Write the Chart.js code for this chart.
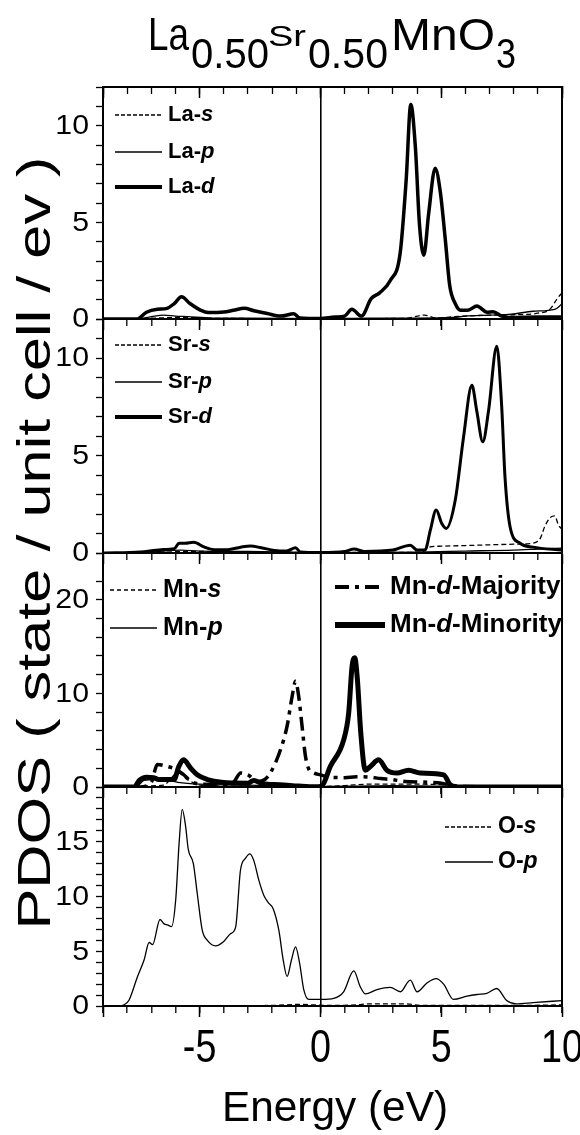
<!DOCTYPE html>
<html>
<head>
<meta charset="utf-8">
<title>PDOS La0.50Sr0.50MnO3</title>
<script src="https://cdn.jsdelivr.net/npm/chart.js@4.4.1/dist/chart.umd.min.js"></script>
<style>
  html, body { margin: 0; padding: 0; background: #fff; }
  #wrap { position: relative; width: 580px; height: 1135px; overflow: hidden; background: #fff; }
  #wrap canvas { position: absolute; left: 0; top: 0; }
</style>
</head>
<body>
<div id="wrap">
  <canvas id="pLa" width="580" height="1135"></canvas>
  <canvas id="pSr" width="580" height="1135"></canvas>
  <canvas id="pMn" width="580" height="1135"></canvas>
  <canvas id="pO" width="580" height="1135"></canvas>
</div>
<script>
// ---- energy axis ----
const energyMin = -9, energyMax = 10;
const energyTickLabels = [-5, 0, 5, 10];

// ---- La partial DOS: [energy (eV), states / unit cell / eV] ----
const laS = [[-9,0],[-7.5,0.02],[-5.8,0.08],[-4,0.03],[0,0.02],[3.5,0.03],[4.3,0.2],[4.8,0.05],[5.5,0.12],[6.5,0.18],[8,0.22],[9,0.3],[9.5,0.5],[9.8,1.05],[10,1.35]];
const laP = [[-9,0],[-7.6,0],[-7,0.12],[-6.5,0.2],[-6,0.15],[-5.5,0.12],[-4.5,0.05],[-3,0.05],[0,0.02],[2,0.05],[4,0.05],[5.5,0.08],[6,0.15],[7,0.2],[7.9,0.25],[8.8,0.4],[9.7,0.5],[9.9,0.67],[10,0.8]];
const laD = [[-9,0],[-7.6,0],[-7.2,0.35],[-6.75,0.5],[-6.35,0.55],[-6.05,0.8],[-5.75,1.15],[-5.4,0.8],[-4.95,0.45],[-4.65,0.33],[-4.0,0.36],[-3.6,0.45],[-3.15,0.55],[-2.75,0.43],[-2.2,0.28],[-1.65,0.15],[-1.1,0.27],[-0.85,0.05],[0,0.02],[0.6,0.1],[1.0,0.15],[1.3,0.5],[1.7,0.15],[2.1,1.05],[2.45,1.35],[2.9,2.0],[3.3,3.4],[3.55,7.2],[3.74,11.1],[3.93,8.9],[4.1,4.9],[4.28,3.3],[4.48,5.45],[4.75,7.8],[4.96,6.6],[5.17,4.1],[5.35,1.75],[5.58,0.8],[5.8,0.45],[6.1,0.45],[6.48,0.67],[6.9,0.35],[7.15,0.38],[7.5,0.15],[8.0,0.08],[9,0.1],[10,0.1]];

// ---- Sr partial DOS ----
const srS = [[-9,0],[-7,0.02],[-5.5,0.08],[-3,0.05],[0,0.02],[3,0.03],[4.2,0.05],[4.5,0.3],[5,0.35],[6,0.38],[7,0.42],[8,0.45],[8.8,0.5],[9.1,0.75],[9.3,1.4],[9.5,1.8],[9.7,1.9],[9.85,1.45],[10,1.2]];
const srP = [[-9,0],[-7,0.05],[-5.8,0.15],[-5,0.1],[-3,0.08],[0,0.02],[4,0.05],[6,0.1],[8,0.15],[9,0.2],[10,0.25]];
const srD = [[-9,0],[-7.45,0.05],[-6.6,0.17],[-6.05,0.22],[-5.85,0.5],[-5.6,0.5],[-5.25,0.55],[-4.8,0.3],[-4.4,0.17],[-3.85,0.17],[-3.3,0.3],[-2.9,0.36],[-2.45,0.27],[-1.9,0.13],[-1.4,0.1],[-1.03,0.27],[-0.83,0.05],[0,0.02],[1.0,0.08],[1.4,0.2],[1.8,0.08],[3.0,0.15],[3.72,0.4],[4.0,0.15],[4.33,0.15],[4.55,1.17],[4.79,2.2],[5.03,1.5],[5.21,1.26],[5.58,2.7],[5.92,5.9],[6.27,8.6],[6.47,7.3],[6.72,5.7],[6.96,7.3],[7.3,10.6],[7.5,7.6],[7.64,3.9],[7.85,1.35],[8.26,0.5],[8.8,0.3],[10,0.15]];

// ---- Mn partial DOS ----
const mnS = [[-9,0],[-7.5,0.1],[-6.5,0.2],[-5.9,1.5],[-5.5,0.8],[-5.0,0.2],[-4,0.1],[-2,0.1],[0,0.05],[1,0.15],[2,0.3],[3,0.3],[4,0.3],[5,0.25],[6,0.1],[10,0.05]];
const mnP = [[-9,0],[-7.6,0.1],[-7.3,0.7],[-6.8,0.8],[-6.3,0.7],[-5.9,0.5],[-5,0.3],[-3,0.2],[0,0.05],[1.5,0.1],[3,0.15],[5,0.1],[10,0.05]];
const mnDMajority = [[-9,0],[-7.5,0],[-7.0,0.5],[-6.75,2.4],[-6.35,2.2],[-6.0,1.9],[-5.7,1.4],[-5.3,0.5],[-4.8,0.3],[-4.0,0.25],[-3.6,0.5],[-3.3,1.5],[-3.0,1.3],[-2.6,0.6],[-2.3,0.8],[-2.07,1.5],[-1.65,4.0],[-1.38,6.5],[-1.17,9.7],[-1.03,11.3],[-0.9,9.7],[-0.76,6.5],[-0.62,3.3],[-0.48,1.9],[-0.28,1.5],[0,1.3],[0.35,1.07],[1.0,1.0],[1.5,1.1],[2.0,1.07],[2.5,0.9],[2.93,0.8],[3.5,0.6],[4.5,0.5],[5.0,0.4],[5.5,0.15],[6,0.05],[10,0]];
const mnDMinority = [[-9,0],[-7.7,0],[-7.5,0.7],[-7.2,1.05],[-6.9,1.0],[-6.7,0.8],[-6.06,0.8],[-5.86,2.2],[-5.67,2.9],[-5.37,2.0],[-5.1,1.3],[-4.68,0.8],[-4.1,0.5],[-3.0,0.4],[-2.76,0.7],[-2.4,0.35],[-1.7,0.25],[-0.9,0.1],[-0.2,0.02],[0.05,0.1],[0.41,2.2],[0.96,5.0],[1.17,7.9],[1.31,12.9],[1.42,13.8],[1.53,11.5],[1.67,5.8],[1.86,1.8],[2.07,2.2],[2.41,2.9],[2.75,1.8],[3.17,1.5],[3.65,1.8],[4.13,1.5],[5.1,1.3],[5.37,0.25],[5.6,0],[10,0]];

// ---- O partial DOS ----
const oS = [[-9,0],[-2,0.05],[-0.8,0.15],[-0.3,0.1],[0.5,0.05],[1.5,0.1],[2.0,0.2],[3.5,0.2],[4.2,0.05],[8,0.05],[10,0.1]];
const oP = [[-9,0],[-8.3,0],[-8.13,0.1],[-7.92,0.55],[-7.57,2.7],[-7.3,4.2],[-7.09,5.8],[-6.95,5.6],[-6.64,7.9],[-6.47,7.5],[-6.33,7.4],[-6.16,7.25],[-5.99,9.7],[-5.85,14.85],[-5.72,17.96],[-5.58,16.4],[-5.47,14.3],[-5.26,13.0],[-5.1,10.3],[-4.89,6.9],[-4.68,6.0],[-4.34,5.5],[-4.0,5.9],[-3.72,6.6],[-3.51,7.2],[-3.31,12.4],[-3.1,13.5],[-2.92,13.9],[-2.76,13.3],[-2.55,11.5],[-2.34,10.1],[-2.14,9.4],[-1.96,8.9],[-1.72,6.9],[-1.54,4.2],[-1.38,2.7],[-1.2,4.2],[-1.03,5.4],[-0.86,3.9],[-0.69,1.5],[-0.48,0.6],[0.07,0.6],[0.55,0.7],[0.96,1.3],[1.38,3.2],[1.65,1.76],[1.86,1.1],[2.34,1.5],[2.89,1.7],[3.31,1.3],[3.72,2.37],[4.0,1.3],[4.41,2.1],[4.79,2.5],[5.1,2.0],[5.51,0.6],[6.07,0.9],[6.48,1.05],[6.89,1.15],[7.3,1.6],[7.71,0.5],[8.1,0.2],[8.8,0.3],[10,0.5]];

// ---- y-axis labelled ticks per panel ----
const laTickLabels = [0, 5, 10];
const srTickLabels = [0, 5, 10];
const mnTickLabels = [0, 10, 20];
const oTickLabels = [0, 5, 10, 15];

// ---- page geometry ----
const CW = 580, CH = 1135;
const PLOT_LEFT = 103, PLOT_RIGHT = 562;
const SANS = '"Liberation Sans", Arial, Helvetica, sans-serif';

Chart.defaults.font.family = SANS;
Chart.defaults.color = '#000';

// draw text with an optional horizontal squeeze / fixed width and rotation
function drawText(ctx, str, x, y, o) {
  ctx.save();
  ctx.font = o.font;
  ctx.fillStyle = '#000';
  ctx.textBaseline = o.baseline || 'alphabetic';
  const w = ctx.measureText(str).width;
  const sx = o.width ? o.width / w : (o.sx || 1);
  ctx.translate(x, y);
  if (o.rotate) ctx.rotate(o.rotate);
  ctx.scale(sx, o.sy || 1);
  let dx = 0;
  if (o.align === 'center') dx = -w / 2;
  else if (o.align === 'right') dx = -w;
  ctx.fillText(str, dx, 0);
  ctx.restore();
  return w * sx;
}

const THIN = { borderWidth: 1.3 };
const DASHED = { borderWidth: 1.3, borderDash: [5, 3] };

function series(label, pts, style) {
  return Object.assign({
    label,
    data: pts.map(([x, y]) => ({ x, y })),
    borderColor: '#000',
    backgroundColor: '#000',
    pointRadius: 0,
    fill: false,
    cubicInterpolationMode: 'monotone',
    borderJoinStyle: 'round',
    xAxisID: 'x',
    yAxisID: 'y'
  }, style);
}

// line samples + mixed bold / bold-italic key text
function keyPlugin(items) {
  return {
    id: 'pdosKey',
    afterDatasetsDraw(chart) {
      const ctx = chart.ctx;
      items.forEach(it => {
        ctx.save();
        ctx.strokeStyle = '#000';
        ctx.lineWidth = it.lw;
        ctx.setLineDash(it.dash || []);
        ctx.beginPath();
        ctx.moveTo(it.x1, it.y);
        ctx.lineTo(it.x2, it.y);
        ctx.stroke();
        ctx.restore();
        let x = it.tx;
        it.parts.forEach(([txt, italic]) => {
          const f = (italic ? 'italic ' : '') + 'bold ' + it.size + 'px ' + SANS;
          x += drawText(ctx, txt, x, it.y, { font: f, baseline: 'middle', sx: it.sx || 1 });
        });
      });
    }
  };
}

// labels of the left axis, slightly widened like the printed figure
function yLabelPlugin(values) {
  return {
    id: 'pdosYLabels',
    afterDraw(chart) {
      const s = chart.scales.y;
      values.forEach(v => {
        drawText(chart.ctx, String(v), 89, s.getPixelForValue(v) + 1,
          { font: '27px ' + SANS, align: 'right', baseline: 'middle', sx: 1.12 });
      });
    }
  };
}

function makePanel(id, p) {
  const scales = {
    x: {
      type: 'linear', min: energyMin, max: energyMax, position: 'bottom', weight: 0,
      ticks: { display: false, stepSize: 1 },
      grid: {
        drawOnChartArea: true, drawTicks: true, tickLength: 7, tickWidth: 1.3, tickColor: '#000',
        color: c => (c.tick && c.tick.value === 0) ? '#000' : 'rgba(0,0,0,0)', lineWidth: 1.6
      },
      border: { display: true, color: '#000', width: 2 },
      afterFit: s => { s.height = 0; }
    },
    xMajor: {
      type: 'linear', min: energyMin, max: energyMax, position: 'bottom', weight: 1,
      ticks: { display: false, stepSize: 5 },
      grid: { drawOnChartArea: false, drawTicks: true, tickLength: 11, tickWidth: 1.5, tickColor: '#000' },
      border: { display: true, color: '#000', width: 2 },
      afterFit: s => { s.height = 0; }
    },
    y: {
      type: 'linear', position: 'left', min: 0, max: p.ymax,
      ticks: { display: false, stepSize: p.ystep },
      grid: { drawOnChartArea: false, drawTicks: true, tickLength: 7, tickWidth: 1.3, tickColor: '#000' },
      border: { display: true, color: '#000', width: 2 },
      afterFit: s => { s.width = PLOT_LEFT; }
    },
    yRight: {
      type: 'linear', position: 'right', min: 0, max: p.ymax,
      ticks: { display: false },
      grid: { display: false },
      border: { display: true, color: '#000', width: 2 },
      afterFit: s => { s.width = 0; }
    }
  };
  if (p.topAxis) {
    scales.xTop = {
      type: 'linear', min: energyMin, max: energyMax, position: 'top', weight: 0,
      ticks: { display: false, stepSize: 1 },
      grid: { drawOnChartArea: false, drawTicks: true, tickLength: -7, tickWidth: 1.3, tickColor: '#000' },
      border: { display: true, color: '#000', width: 2 },
      afterFit: s => { s.height = 0; }
    };
    scales.xTopMajor = {
      type: 'linear', min: energyMin, max: energyMax, position: 'top', weight: 1,
      ticks: { display: false, stepSize: 5 },
      grid: { drawOnChartArea: false, drawTicks: true, tickLength: -11, tickWidth: 1.5, tickColor: '#000' },
      border: { display: true, color: '#000', width: 2 },
      afterFit: s => { s.height = 0; }
    };
  }
  return new Chart(document.getElementById(id), {
    type: 'line',
    data: { datasets: p.datasets },
    options: {
      responsive: false,
      animation: false,
      devicePixelRatio: 1,
      events: [],
      layout: { padding: { left: 0, right: CW - PLOT_RIGHT, top: p.top, bottom: CH - p.bottom } },
      plugins: { legend: { display: false }, tooltip: { enabled: false }, title: { display: false } },
      scales
    },
    plugins: [keyPlugin(p.key), yLabelPlugin(p.yLabels)].concat(p.extra || [])
  });
}

// figure title, axis titles and energy tick labels
const titlePlugin = {
  id: 'pdosTitle',
  afterDraw(chart) {
    const ctx = chart.ctx;
    drawText(ctx, 'La', 148, 50, { font: '47px ' + SANS, width: 41 });
    drawText(ctx, '0.50', 191, 68, { font: '43px ' + SANS, width: 78 });
    drawText(ctx, 'Sr', 268, 46, { font: '30px ' + SANS, width: 38 });
    drawText(ctx, '0.50', 308, 68, { font: '43px ' + SANS, width: 80 });
    drawText(ctx, 'MnO', 391, 50, { font: '44px ' + SANS, width: 104 });
    drawText(ctx, '3', 496, 68, { font: '43px ' + SANS, width: 20 });
    drawText(ctx, 'PDOS ( state / unit cell / ev )', 50, 543,
      { font: '46px ' + SANS, align: 'center', rotate: -Math.PI / 2, width: 773 });
  }
};

const energyAxisPlugin = {
  id: 'pdosEnergy',
  afterDraw(chart) {
    const ctx = chart.ctx;
    const s = chart.scales.x;
    energyTickLabels.forEach(v => {
      drawText(ctx, String(v), s.getPixelForValue(v), 1062, { font: '46px ' + SANS, align: 'center', sx: 0.82 });
    });
    drawText(ctx, 'Energy (eV)', 335, 1121, { font: '43px ' + SANS, align: 'center', width: 226 });
  }
};

makePanel('pLa', {
  top: 87, bottom: 319, ymax: 12, ystep: 1, topAxis: true, yLabels: laTickLabels,
  datasets: [
    series('La-s', laS, DASHED),
    series('La-p', laP, THIN),
    series('La-d', laD, { borderWidth: 3.5 })
  ],
  key: [
    { x1: 115, x2: 162, y: 115, lw: 1.3, dash: [4, 2], tx: 168, size: 22, parts: [['La-', false], ['s', true]] },
    { x1: 115, x2: 162, y: 152, lw: 1.3, tx: 168, size: 22, parts: [['La-', false], ['p', true]] },
    { x1: 115, x2: 162, y: 187, lw: 4, tx: 168, size: 22, parts: [['La-', false], ['d', true]] }
  ],
  extra: [titlePlugin]
});

makePanel('pSr', {
  top: 319, bottom: 553, ymax: 12, ystep: 1, yLabels: srTickLabels,
  datasets: [
    series('Sr-s', srS, DASHED),
    series('Sr-p', srP, THIN),
    series('Sr-d', srD, { borderWidth: 3 })
  ],
  key: [
    { x1: 115, x2: 162, y: 345, lw: 1.3, dash: [4, 2], tx: 168, size: 22, parts: [['Sr-', false], ['s', true]] },
    { x1: 115, x2: 162, y: 382, lw: 1.3, tx: 168, size: 22, parts: [['Sr-', false], ['p', true]] },
    { x1: 115, x2: 162, y: 417, lw: 4, tx: 168, size: 22, parts: [['Sr-', false], ['d', true]] }
  ]
});

makePanel('pMn', {
  top: 553, bottom: 787, ymax: 25, ystep: 2, yLabels: mnTickLabels,
  datasets: [
    series('Mn-s', mnS, DASHED),
    series('Mn-p', mnP, THIN),
    series('Mn-d-Majority', mnDMajority, { borderWidth: 3.5, borderDash: [14, 6, 4, 6] }),
    series('Mn-d-Minority', mnDMinority, { borderWidth: 5 })
  ],
  key: [
    { x1: 110, x2: 157, y: 590, lw: 1.3, dash: [4, 3], tx: 163, size: 25, parts: [['Mn-', false], ['s', true]] },
    { x1: 110, x2: 157, y: 628, lw: 1.3, tx: 163, size: 25, parts: [['Mn-', false], ['p', true]] },
    { x1: 335, x2: 385, y: 587, lw: 4, dash: [14, 6, 4, 6], tx: 390, size: 26, parts: [['Mn-', false], ['d', true], ['-Majority', false]] },
    { x1: 335, x2: 385, y: 625, lw: 6, tx: 390, size: 26, parts: [['Mn-', false], ['d', true], ['-Minority', false]] }
  ]
});

makePanel('pO', {
  top: 787, bottom: 1006, ymax: 20, ystep: 1, yLabels: oTickLabels,
  datasets: [
    series('O-s', oS, DASHED),
    series('O-p', oP, THIN)
  ],
  key: [
    { x1: 445, x2: 493, y: 827, lw: 1.3, dash: [4, 2], tx: 498, size: 23, parts: [['O-', false], ['s', true]] },
    { x1: 445, x2: 493, y: 862, lw: 1.3, tx: 498, size: 23, parts: [['O-', false], ['p', true]] }
  ],
  extra: [energyAxisPlugin]
});
</script>
</body>
</html>
